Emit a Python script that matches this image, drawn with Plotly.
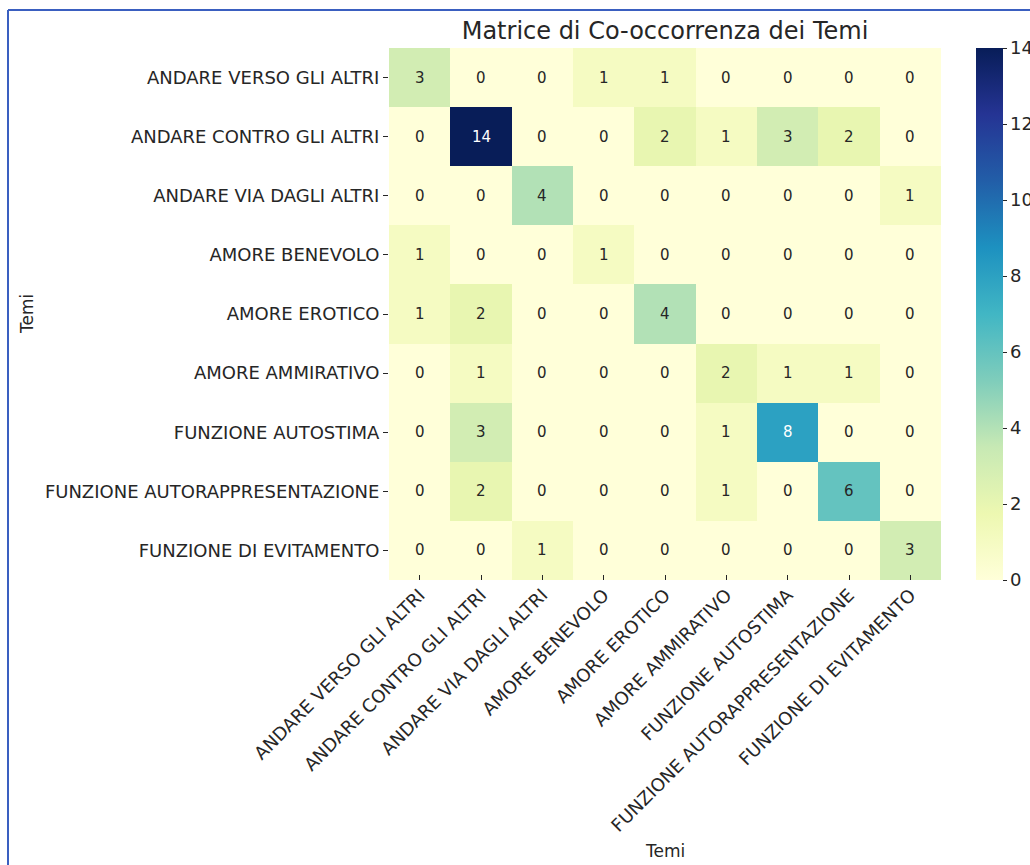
import plotly.graph_objects as go

themes = [
    "ANDARE VERSO GLI ALTRI",
    "ANDARE CONTRO GLI ALTRI",
    "ANDARE VIA DAGLI ALTRI",
    "AMORE BENEVOLO",
    "AMORE EROTICO",
    "AMORE AMMIRATIVO",
    "FUNZIONE AUTOSTIMA",
    "FUNZIONE AUTORAPPRESENTAZIONE",
    "FUNZIONE DI EVITAMENTO",
]

row_verso = [3, 0, 0, 1, 1, 0, 0, 0, 0]
row_contro = [0, 14, 0, 0, 2, 1, 3, 2, 0]
row_via = [0, 0, 4, 0, 0, 0, 0, 0, 1]
row_benevolo = [1, 0, 0, 1, 0, 0, 0, 0, 0]
row_erotico = [1, 2, 0, 0, 4, 0, 0, 0, 0]
row_ammirativo = [0, 1, 0, 0, 0, 2, 1, 1, 0]
row_autostima = [0, 3, 0, 0, 0, 1, 8, 0, 0]
row_autorappr = [0, 2, 0, 0, 0, 1, 0, 6, 0]
row_evitamento = [0, 0, 1, 0, 0, 0, 0, 0, 3]

matrix = [row_verso, row_contro, row_via, row_benevolo, row_erotico,
          row_ammirativo, row_autostima, row_autorappr, row_evitamento]

colorbar_ticks = [0, 2, 4, 6, 8, 10, 12, 14]

ylgnbu = ["#ffffd9", "#edf8b1", "#c7e9b4", "#7fcdbb", "#41b6c4",
          "#1d91c0", "#225ea8", "#253494", "#081d58"]
scale = [[i / (len(ylgnbu) - 1), c] for i, c in enumerate(ylgnbu)]

FONT = "DejaVu Sans"
TXT = "#262626"

W, H = 1030, 865
L, R, T, B = 389, 941, 48, 580  # plot area in pixels
pw, ph = R - L, B - T


def px_x(p):
    return (p - L) / pw


def px_y(p):
    return (B - p) / ph


def hex_rgb(h):
    h = h.lstrip("#")
    return tuple(int(h[i:i + 2], 16) for i in (0, 2, 4))


def interp_color(v, vmax):
    t = v / vmax * (len(ylgnbu) - 1)
    i = min(int(t), len(ylgnbu) - 2)
    f = t - i
    a, b = hex_rgb(ylgnbu[i]), hex_rgb(ylgnbu[i + 1])
    return tuple(a[k] + (b[k] - a[k]) * f for k in range(3))


def lum(rgb):
    out = 0
    for w, c in zip((0.2126, 0.7152, 0.0722), rgb):
        c = c / 255
        c = c / 12.92 if c <= 0.03928 else ((c + 0.055) / 1.055) ** 2.4
        out += w * c
    return out


vmax = max(max(r) for r in matrix)

fig = go.Figure(go.Heatmap(
    z=matrix, x=themes, y=themes,
    colorscale=scale, zmin=0, zmax=vmax,
    xgap=0, ygap=0,
    colorbar=dict(
        thickness=27, thicknessmode="pixels",
        len=1, lenmode="fraction", y=0.5, yanchor="middle", ypad=0,
        x=px_x(976), xanchor="left", xpad=0,
        outlinewidth=0,
        tickvals=colorbar_ticks,
        ticks="outside", ticklen=4, tickcolor=TXT, tickwidth=1,
        tickfont=dict(family=FONT, size=18, color=TXT),
    ),
    hoverinfo="skip",
))

annotations = []
for i, yname in enumerate(themes):
    for j, xname in enumerate(themes):
        v = matrix[i][j]
        col = TXT if lum(interp_color(v, vmax)) > 0.408 else "#ffffff"
        annotations.append(dict(
            x=xname, y=yname, xref="x", yref="y", text=str(v),
            showarrow=False, font=dict(family=FONT, size=15, color=col),
        ))

annotations.append(dict(
    x=0.5, y=px_y(851), xref="paper", yref="paper", text="Temi",
    showarrow=False, xanchor="center", yanchor="middle",
    font=dict(family=FONT, size=17, color=TXT),
))
annotations.append(dict(
    x=px_x(27), y=0.5, xref="paper", yref="paper", text="Temi",
    showarrow=False, xanchor="center", yanchor="middle", textangle=-90,
    font=dict(family=FONT, size=17, color=TXT),
))

shapes = [
    dict(type="line", xref="paper", yref="paper",
         x0=px_x(8), x1=px_x(1040), y0=px_y(10), y1=px_y(10),
         line=dict(color="#3a5fc0", width=2)),
    dict(type="line", xref="paper", yref="paper",
         x0=px_x(8), x1=px_x(8), y0=px_y(10), y1=px_y(870),
         line=dict(color="#3a5fc0", width=2)),
]

fig.update_layout(
    width=W, height=H,
    margin=dict(l=L, r=W - R, t=T, b=H - B, autoexpand=False),
    paper_bgcolor="white", plot_bgcolor="white",
    font=dict(family=FONT, color=TXT),
    title=dict(text="Matrice di Co-occorrenza dei Temi",
               x=0.5, xref="paper", xanchor="center",
               y=1 - 31 / H, yref="container", yanchor="middle",
               font=dict(family=FONT, size=24, color=TXT)),
    xaxis=dict(tickangle=-45, ticks="inside", ticklen=5, tickcolor=TXT,
               tickfont=dict(family=FONT, size=18, color=TXT),
               showgrid=False, zeroline=False, showline=False,
               automargin=False),
    yaxis=dict(autorange="reversed", ticks="outside", ticklen=5, tickcolor=TXT,
               tickfont=dict(family=FONT, size=18, color=TXT),
               showgrid=False, zeroline=False, showline=False,
               automargin=False),
    annotations=annotations,
    shapes=shapes,
)

fig.write_html("out.html")
